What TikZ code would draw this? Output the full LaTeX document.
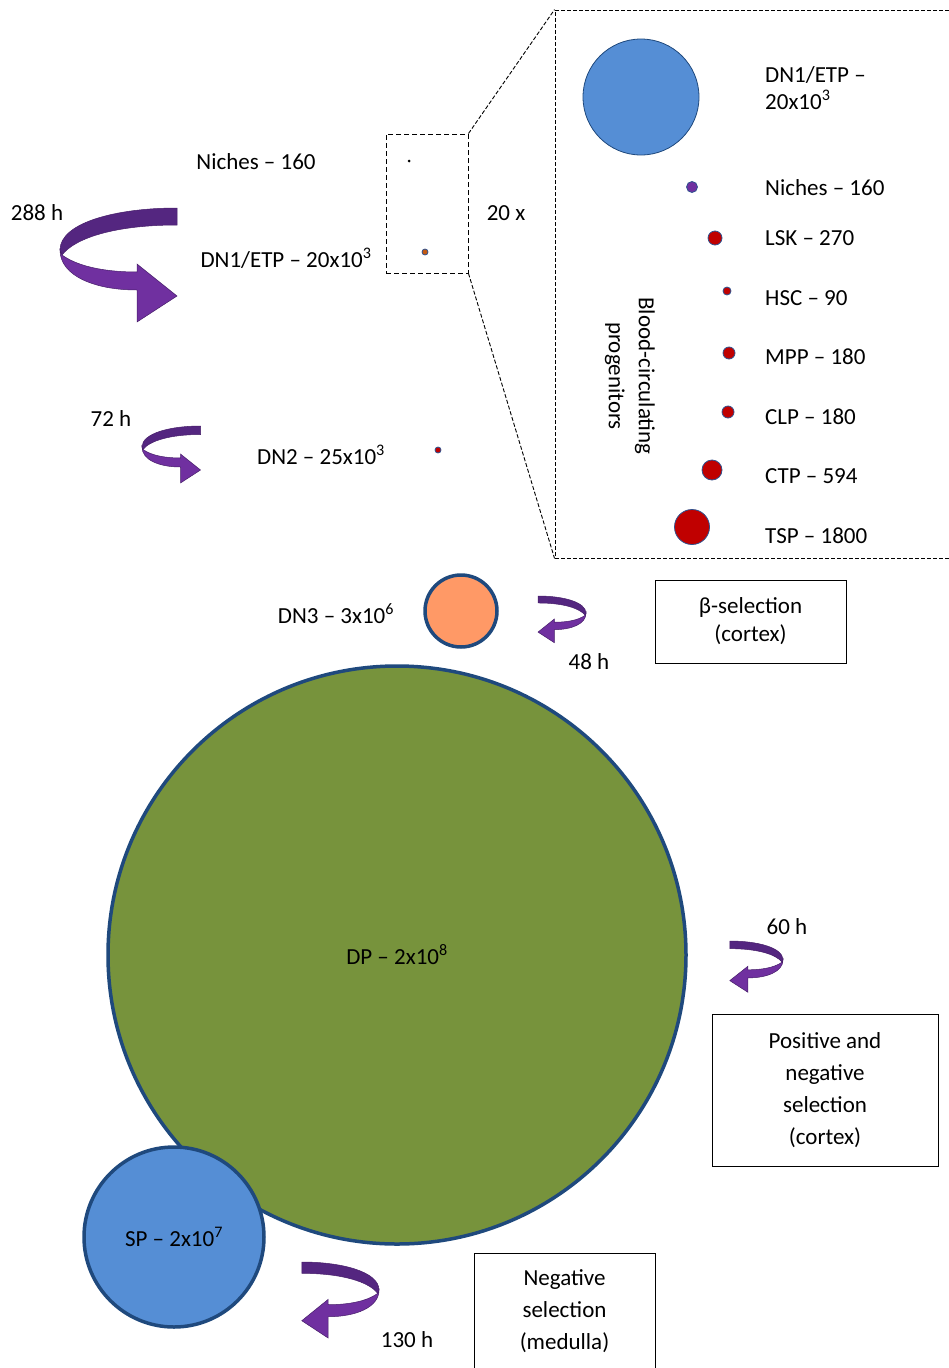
\documentclass[tikz,border=0pt]{standalone}
\usepackage{fontspec}
\setmainfont{Carlito}
\definecolor{arrdark}{RGB}{84,38,128}
\definecolor{arrlight}{RGB}{112,48,160}
\definecolor{arredge}{RGB}{70,30,105}
\definecolor{ringblue}{RGB}{31,73,125}
\definecolor{dotring}{RGB}{47,82,143}
\definecolor{dpgreen}{RGB}{119,147,60}
\definecolor{dnorange}{RGB}{255,153,102}
\definecolor{spblue}{RGB}{85,142,213}
\definecolor{dotred}{RGB}{192,0,0}
\definecolor{dotpurple}{RGB}{112,48,160}
\definecolor{dotbrown}{RGB}{197,90,17}
\tikzset{
  txt/.style={inner sep=0pt, font=\fontsize{23}{28}\selectfont},
  txtleft/.style={txt, anchor=west, align=left},
  bigcell/.style={circle, inner sep=0pt, draw=ringblue, line width=3.5pt, font=\fontsize{23}{28}\selectfont},
  dot/.style={circle, inner sep=0pt, draw=dotring, line width=0.8pt, fill=dotred},
  labelbox/.style={draw=black, line width=1pt, align=center, inner sep=0pt, font=\fontsize{23}{32}\selectfont},
  zoomdash/.style={draw=black, line width=1pt, dash pattern=on 5pt off 3pt},
  insetdash/.style={draw=black, line width=0.9pt, dash pattern=on 4pt off 2pt},
  curvarrow/.pic={
    \path[fill=arrdark, draw=arredge, line width=0.5pt]
      (117,0) .. controls (55,0) and (0,15) .. (0,42) -- (2,47)
      .. controls (15,30) and (55,17) .. (117,17) -- cycle;
    \path[fill=arrlight, draw=arredge, line width=0.5pt]
      (2,47) .. controls (20,60) and (50,64) .. (77,64) -- (77,56) -- (117,88)
      -- (77,114) -- (77,82) .. controls (35,82) and (0,68) .. (0,42) -- cycle;
  }
}
\begin{document}
\begin{tikzpicture}[x=1pt, y=-1pt]
\useasboundingbox (0,0) rectangle (949,1368);
\clip (0,0) rectangle (949,1368);

% ---- upper left: niche zoom region ----
\node[txt] (niches) at (256,162) {Niches – 160};
\node[txt] (dn1) at (286,258) {DN1/ETP – 20x10\textsuperscript{3}};
\node[txt] (t288) at (37,213) {288 h};
\pic at (60,208) {curvarrow};

\node[zoomdash, minimum width=82pt, minimum height=139pt, inner sep=0pt] (zbox) at (427,203.5) {};
\node[circle, fill=black, inner sep=0pt, minimum size=3pt] (zniche) at (409,161) {};
\node[dot, fill=dotbrown, minimum size=6pt] (zdn1) at (425,252) {};
\node[txt] (twenty) at (506,213) {20 x};

% ---- inset ----
\node[insetdash, minimum width=445pt, minimum height=548pt, inner sep=0pt] (inset) at (777.5,284) {};
\draw[insetdash] (zbox.north east) -- (inset.north west);
\draw[insetdash] (zbox.south east) -- (inset.south west);

\node[circle, inner sep=0pt, minimum size=116pt, fill=spblue, draw=ringblue, line width=0.8pt] (idn1) at (641,97) {};
\node[dot, fill=dotpurple, minimum size=11pt] (iniche) at (692,187) {};
\node[dot, minimum size=14pt] (ilsk) at (715,238) {};
\node[dot, minimum size=8pt] (ihsc) at (727,291) {};
\node[dot, minimum size=12pt] (impp) at (729,353) {};
\node[dot, minimum size=12pt] (iclp) at (728,412) {};
\node[dot, minimum size=20pt] (ictp) at (712,470) {};
\node[dot, minimum size=35pt] (itsp) at (692,527) {};

\node[txtleft] (ldn1) at (765,88) {DN1/ETP –\\[-1pt]20x10\textsuperscript{3}};
\node[txtleft] (lniche) at (765,188) {Niches – 160};
\node[txtleft] (llsk) at (765,238) {LSK – 270};
\node[txtleft] (lhsc) at (765,298) {HSC – 90};
\node[txtleft] (lmpp) at (765,357) {MPP – 180};
\node[txtleft] (lclp) at (765,417) {CLP – 180};
\node[txtleft] (lctp) at (765,476) {CTP – 594};
\node[txtleft] (ltsp) at (765,536) {TSP – 1800};

\node[txt, rotate=-90, align=center, font=\fontsize{23}{30}\selectfont] (blood) at (630,376) {Blood-circulating\\progenitors};

% ---- DN2 ----
\node[txt] (t72) at (111,419) {72 h};
\pic[scale=0.5] at (142,426) {curvarrow};
\node[txt] (dn2) at (321,455) {DN2 – 25x10\textsuperscript{3}};
\node[dot, minimum size=6pt] (dn2dot) at (438,450) {};

% ---- DN3 ----
\node[bigcell, fill=dnorange, minimum size=72pt] (dn3) at (461,611) {};
\node[txt] (dn3l) at (336,614) {DN3 – 3x10\textsuperscript{6}};
\pic[xscale=-0.41, yscale=0.41] at (586,596) {curvarrow};
\node[txt] (t48) at (589,662) {48 h};
\node[labelbox, font=\fontsize{23}{28}\selectfont, minimum width=191pt, minimum height=83pt] (beta) at (750.5,621.5) {β-selection\\(cortex)};

% ---- DP ----
\node[bigcell, fill=dpgreen, minimum size=578pt] (dp) at (397,955) {DP – 2x10\textsuperscript{8}};
\node[txt] (t60) at (787,927) {60 h};
\pic[xscale=-0.455, yscale=0.45] at (783,941) {curvarrow};
\node[labelbox, minimum width=226pt, minimum height=152pt] (posbox) at (825,1090) {Positive and\\negative\\selection\\(cortex)};

% ---- SP ----
\node[bigcell, fill=spblue, minimum size=180pt] (sp) at (174,1237) {SP – 2x10\textsuperscript{7}};
\pic[xscale=-0.66, yscale=0.667] at (379,1262) {curvarrow};
\node[txt] (t130) at (407,1340) {130 h};
\node[labelbox, minimum width=181pt, minimum height=116pt] (negbox) at (564.5,1311) {Negative\\selection\\(medulla)};
\end{tikzpicture}
\end{document}
